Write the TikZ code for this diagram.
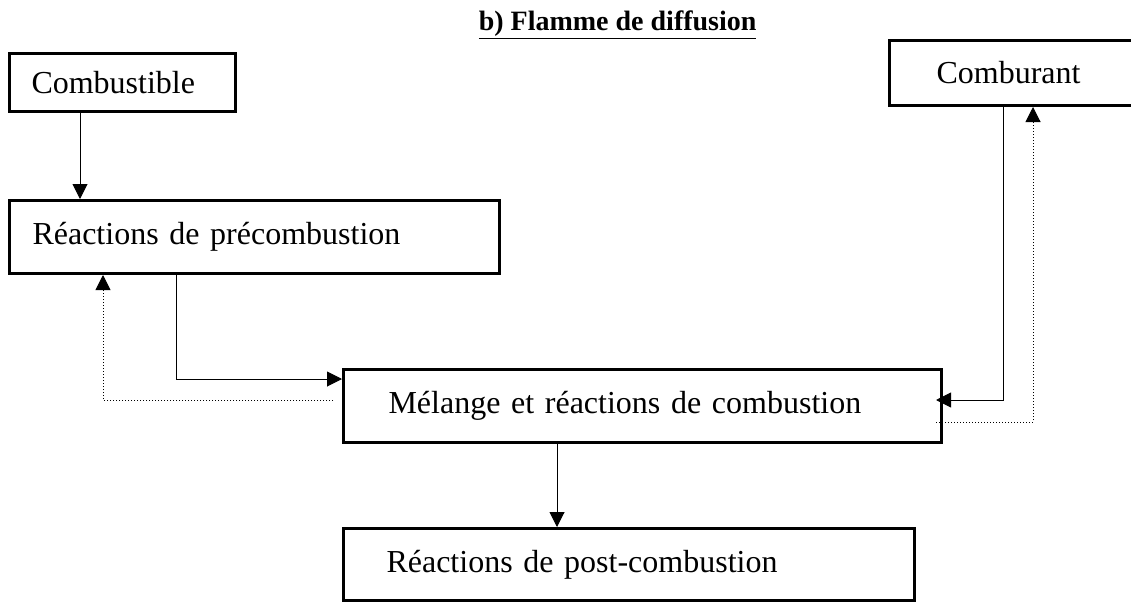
\documentclass[tikz,border=0pt]{standalone}
\usepackage{fontspec}
\setmainfont{Liberation Serif}
\usetikzlibrary{arrows.meta}
\tikzset{
  box/.style={draw, line width=3pt, anchor=north west, inner ysep=0pt,
    align=left, font=\fontsize{32}{38}\selectfont},
  flow/.style={line width=1pt, -{Triangle[length=15pt,width=15pt]}},
  back/.style={flow, dash pattern=on 1pt off 2pt},
}
\begin{document}
\begin{tikzpicture}[x=1pt, y=-1pt]
  \useasboundingbox (0,0) rectangle (1131,602);
  \node (titre) [anchor=base east, font=\fontsize{28}{34}\selectfont\bfseries] at (760,31) {\underline{b) Flamme de diffusion}};
  \node (comb) [box, minimum width=226pt, minimum height=58pt, inner xsep=22pt, text width=182pt] at (8,52) {Combustible};
  \node (combu) [box, minimum width=260pt, minimum height=65pt, inner xsep=47pt, text width=166pt] at (888,39) {Comburant};
  \node (prec) [box, minimum width=490pt, minimum height=73pt, inner xsep=23pt, text width=444pt] at (8,199) {R\'eactions de pr\'ecombustion};
  \node (mel) [box, minimum width=598pt, minimum height=73pt, inner xsep=45pt, text width=508pt] at (342,368) {M\'elange et r\'eactions de combustion};
  \node (post) [box, minimum width=571pt, minimum height=72pt, inner xsep=43pt, text width=485pt] at (342,527) {R\'eactions de post-combustion};
  \draw [flow] ([xshift=72pt]comb.south west) to ([xshift=72pt]prec.north west);
  \draw [flow] ([xshift=168pt]prec.south west) |- ([yshift=-11pt]mel.north west);
  \draw [back] ([xshift=-9pt,yshift=-32pt]mel.north west) -| ([xshift=95pt]prec.south west);
  \draw [flow, shorten >=-7pt] ([xshift=115pt]combu.south west) |- ([yshift=-32pt]mel.north east);
  \draw [back] ([xshift=-7pt,yshift=-54pt]mel.north east) -| ([xshift=145pt]combu.south west);
  \draw [flow] ([xshift=215pt]mel.south west) to ([xshift=215pt]post.north west);
\end{tikzpicture}
\end{document}
